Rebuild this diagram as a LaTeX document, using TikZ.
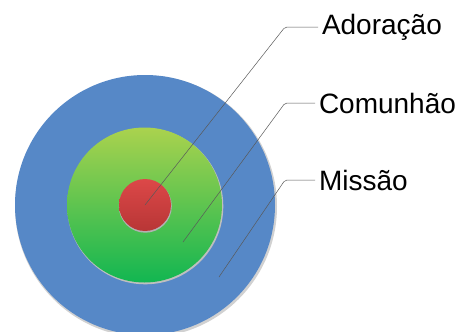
\documentclass[tikz,border=0pt]{standalone}
\usepackage{fontspec}
\setmainfont{Liberation Sans}
\begin{document}
\begin{tikzpicture}[x=1pt,y=-1pt,
  ring/.style={circle,inner sep=0pt,draw=none},
  leader/.style={draw=black!65,line width=0.5pt,rounded corners=2pt},
  lbl/.style={anchor=west,inner sep=0pt,outer sep=4pt,font=\fontsize{28}{30}\selectfont}]
\definecolor{bluering}{HTML}{5688C7}
\definecolor{greentop}{HTML}{AAD24E}
\definecolor{greenbot}{HTML}{12B651}
\definecolor{redtop}{HTML}{DC4848}
\definecolor{redbot}{HTML}{B83636}
\useasboundingbox (0,0) rectangle (456,332);
\begin{scope}
\clip (0,0) rectangle (456,332);
\fill[black!18] (146,206.5) circle (131);
\node[ring,fill=bluering,minimum size=260pt] (miss) at (145,205) {};
\fill[black!25] (145.3,206.3) circle (78);
\node[ring,top color=greentop,bottom color=greenbot,minimum size=155pt] (comm) at (144.5,205) {};
\fill[black!30] (145.3,206.2) circle (26.5);
\node[ring,top color=redtop,bottom color=redbot,minimum size=52pt] (ador) at (145,205) {};
\end{scope}
\node[lbl] (tA) at (318,27) {Adoração};
\node[lbl] (tC) at (315,103) {Comunhão};
\node[lbl] (tM) at (315,180) {Missão};
\coordinate (eA) at (145,205);
\coordinate (eC) at (183,242);
\coordinate (eM) at (219,277);
\draw[leader] (eA) -- (285,27) -- (tA.west);
\draw[leader] (eC) -- (285,103) -- (tC.west);
\draw[leader] (eM) -- (285,180) -- (tM.west);
\end{tikzpicture}
\end{document}
